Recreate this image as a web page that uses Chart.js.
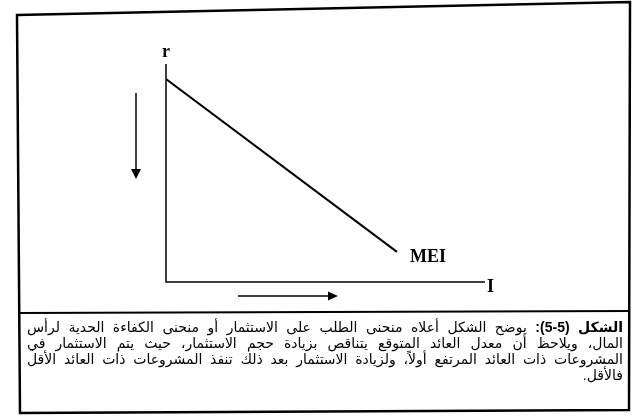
<!DOCTYPE html>
<html lang="ar">
<head>
<meta charset="utf-8">
<script src="https://cdn.jsdelivr.net/npm/chart.js@4"></script>
<style>
  html, body { margin: 0; padding: 0; background: #fff; }
  #wrap { position: relative; width: 633px; height: 416px; }
  #meiChart { position: absolute; left: 0; top: 0; }
  .caption {
    position: absolute; left: 27px; top: 319px; width: 596px;
    direction: rtl; font-family: "Liberation Sans", "DejaVu Sans", sans-serif;
    font-size: 14px; line-height: 16px; color: #000;
  }
  .caption div { text-align: justify; text-align-last: justify; white-space: nowrap; }
  .caption div.last { text-align-last: right; }
</style>
</head>
<body>
<div id="wrap">
  <canvas id="meiChart" width="633" height="416"></canvas>
  <div class="caption">
    <div><b>الشكل (5-5):</b> يوضح الشكل أعلاه منحنى الطلب على الاستثمار أو منحنى الكفاءة الحدية لرأس</div>
    <div>المال، ويلاحظ أن معدل العائد المتوقع يتناقص بزيادة حجم الاستثمار، حيث يتم الاستثمار في</div>
    <div>المشروعات ذات العائد المرتفع أولاً، ولزيادة الاستثمار بعد ذلك تنفذ المشروعات ذات العائد الأقل</div>
    <div class="last">فالأقل.</div>
  </div>
</div>
<script>
// Investment (I) and expected rate of return (r) at the two ends of the MEI line
const investment = [0, 72.4];
const returnRate = [93.1, 13.8];
const axisLabels = ["r", "I"];
const curveLabel = "MEI";

const INK = "#000";

// Outer frame, caption divider, axes, arrows and labels
const figurePlugin = {
  id: "figure",
  afterDraw(chart) {
    const ctx = chart.ctx;
    const area = chart.chartArea;
    const xs = chart.scales.x;
    const ys = chart.scales.y;
    const x0 = xs.getPixelForValue(0);
    const y0 = ys.getPixelForValue(0);

    ctx.save();
    ctx.strokeStyle = INK;
    ctx.fillStyle = INK;

    // frame of the figure (scanned page, slightly skewed)
    ctx.lineWidth = 2.5;
    ctx.beginPath();
    ctx.moveTo(17, 15);
    ctx.lineTo(630, 2);
    ctx.lineTo(629, 410);
    ctx.lineTo(20, 413);
    ctx.closePath();
    ctx.stroke();

    // divider above the caption
    ctx.lineWidth = 2;
    ctx.beginPath();
    ctx.moveTo(18, 313);
    ctx.lineTo(630, 311);
    ctx.stroke();

    // axes
    ctx.lineWidth = 1.5;
    ctx.beginPath();
    ctx.moveTo(x0, area.top);
    ctx.lineTo(x0, y0);
    ctx.lineTo(area.right, y0);
    ctx.stroke();

    // axis names
    ctx.font = "bold 18px 'Liberation Serif', serif";
    ctx.textBaseline = "alphabetic";
    ctx.textAlign = "center";
    ctx.fillText(axisLabels[0], x0, area.top - 7);
    ctx.textAlign = "left";
    ctx.fillText(axisLabels[1], area.right + 2, y0 + 10);

    // curve name next to its lower end
    const last = investment.length - 1;
    const ex = xs.getPixelForValue(investment[last]);
    const ey = ys.getPixelForValue(returnRate[last]);
    ctx.fillText(curveLabel, ex + 13, ey + 10);

    // falling rate arrow
    const ax = x0 - 30;
    ctx.lineWidth = 1.5;
    ctx.beginPath();
    ctx.moveTo(ax, area.top + 29);
    ctx.lineTo(ax, area.top + 107);
    ctx.stroke();
    ctx.beginPath();
    ctx.moveTo(ax - 5, area.top + 105);
    ctx.lineTo(ax + 5, area.top + 105);
    ctx.lineTo(ax, area.top + 115);
    ctx.closePath();
    ctx.fill();

    // rising investment arrow
    const ay = y0 + 14;
    ctx.beginPath();
    ctx.moveTo(x0 + 72, ay);
    ctx.lineTo(x0 + 164, ay);
    ctx.stroke();
    ctx.beginPath();
    ctx.moveTo(x0 + 162, ay - 4.5);
    ctx.lineTo(x0 + 162, ay + 4.5);
    ctx.lineTo(x0 + 172, ay);
    ctx.closePath();
    ctx.fill();

    ctx.restore();
  }
};

const chart = new Chart(document.getElementById("meiChart"), {
  type: "line",
  data: {
    datasets: [{
      label: curveLabel,
      data: investment.map((v, i) => ({ x: v, y: returnRate[i] })),
      borderColor: INK,
      borderWidth: 2,
      pointRadius: 0,
      fill: false,
      tension: 0
    }]
  },
  options: {
    responsive: false,
    animation: false,
    events: [],
    layout: { padding: { left: 166, right: 148, top: 64, bottom: 134 } },
    scales: {
      x: { type: "linear", min: 0, max: 100, display: false },
      y: { type: "linear", min: 0, max: 100, display: false }
    },
    plugins: {
      legend: { display: false },
      tooltip: { enabled: false }
    }
  },
  plugins: [figurePlugin]
});
</script>
</body>
</html>
